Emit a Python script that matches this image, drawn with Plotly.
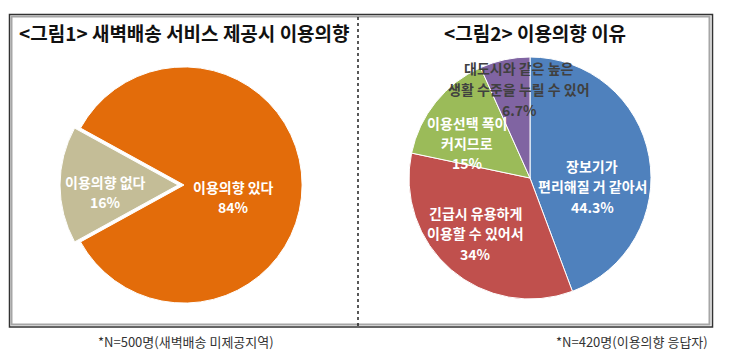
import plotly.graph_objects as go

W, H = 730, 363

# ---- data ----
left_title = "&lt;그림1&gt; 새벽배송 서비스 제공시 이용의향"
right_title = "&lt;그림2&gt; 이용의향 이유"
left_labels = ["이용의향 있다", "이용의향 없다"]
left_values = [84, 16]
right_labels = ["장보기가<br>편리해질 거 같아서",
                "긴급시 유용하게<br>이용할 수 있어서",
                "이용선택 폭이<br>커지므로",
                "대도시와 같은 높은<br>생활 수준을 누릴 수 있어"]
right_values = [44.3, 34, 15, 6.7]
left_note = "*N=500명(새벽배송 미제공지역)"
right_note = "*N=420명(이용의향 응답자)"

# ---- style ----
left_colors = ["#E36C0A", "#C4BD97"]
right_colors = ["#4F81BD", "#C0504D", "#9BBB59", "#8064A2"]
FONT = "Noto Sans CJK KR"
left_label_pos = [(233, 197), (105, 192)]
left_label_color = ["white", "white"]
right_label_pos = [(592, 186), (475, 233), (467, 143), (519, 89)]
right_label_color = ["white", "white", "white", "#404040"]
LINE_GAP = 20.5


def px(x):
    return x / W


def py(y):
    return 1 - y / H


fig = go.Figure()

fig.add_trace(go.Pie(
    labels=left_labels, values=left_values, sort=False, direction="clockwise",
    rotation=-61.2, pull=[0, 0.05], textinfo="none", hoverinfo="label+percent",
    marker=dict(colors=left_colors, line=dict(color="white", width=1)),
    domain=dict(x=[px(60), px(308)], y=[py(309), py(61)]),
    showlegend=False,
))
fig.add_trace(go.Pie(
    labels=[l.replace("<br>", " ") for l in right_labels], values=right_values,
    sort=False, direction="clockwise", rotation=0, textinfo="none",
    hoverinfo="label+percent",
    marker=dict(colors=right_colors, line=dict(color="white", width=1)),
    domain=dict(x=[px(409), px(651)], y=[py(299), py(57)]),
    showlegend=False,
))

annotations = []


def add_label(lines, pos, color):
    cx, cy = pos
    n = len(lines)
    for i, t in enumerate(lines):
        y = cy + (i - (n - 1) / 2) * LINE_GAP
        annotations.append(dict(
            x=px(cx), y=py(y), xref="paper", yref="paper", text=t,
            showarrow=False, xanchor="center", yanchor="middle",
            font=dict(family=FONT, size=14, color=color, weight="bold"),
        ))


for lab, v, pos, c in zip(left_labels, left_values, left_label_pos, left_label_color):
    add_label([lab, f"{v:g}%"], pos, c)
for lab, v, pos, c in zip(right_labels, right_values, right_label_pos, right_label_color):
    add_label(lab.split("<br>") + [f"{v:g}%"], pos, c)

# titles
annotations.append(dict(x=px(184), y=py(32), xref="paper", yref="paper", text=left_title,
                        showarrow=False, xanchor="center", yanchor="middle",
                        font=dict(family=FONT, size=19, color="#111111", weight="bold")))
annotations.append(dict(x=px(535), y=py(32), xref="paper", yref="paper", text=right_title,
                        showarrow=False, xanchor="center", yanchor="middle",
                        font=dict(family=FONT, size=19, color="#111111", weight="bold")))
# notes
annotations.append(dict(x=px(186), y=py(341), xref="paper", yref="paper", text=left_note,
                        showarrow=False, xanchor="center", yanchor="middle",
                        font=dict(family=FONT, size=13, color="#333333")))
annotations.append(dict(x=px(632), y=py(341), xref="paper", yref="paper", text=right_note,
                        showarrow=False, xanchor="center", yanchor="middle",
                        font=dict(family=FONT, size=13, color="#333333")))

shapes = [
    dict(type="rect", xref="paper", yref="paper", x0=px(9.5), x1=px(712.5), y0=py(327), y1=py(14.5),
         line=dict(color="#333333", width=1.5)),
    dict(type="rect", xref="paper", yref="paper", x0=px(11.5), x1=px(709.5), y0=py(324.5), y1=py(16.5),
         line=dict(color="#A6A6A6", width=2)),
    dict(type="line", xref="paper", yref="paper", x0=px(358), x1=px(358), y0=py(326), y1=py(15),
         line=dict(color="#222222", width=1.5, dash="dot")),
]

fig.update_layout(
    width=W, height=H, margin=dict(l=0, r=0, t=0, b=0),
    paper_bgcolor="white", plot_bgcolor="white",
    annotations=annotations, shapes=shapes,
    font=dict(family=FONT),
)

fig.write_html("out.html", config={"displayModeBar": False},
               post_script="document.body.style.margin='0';")
